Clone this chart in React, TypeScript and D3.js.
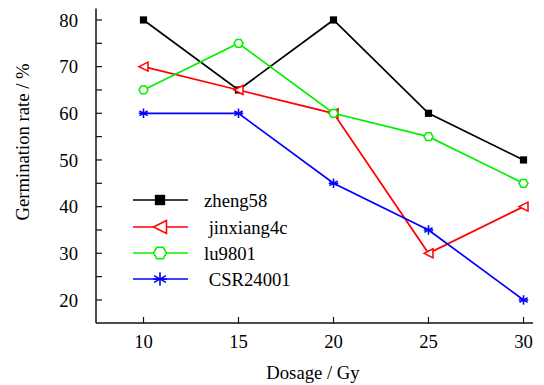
import React from "react";
import * as d3 from "d3";

const doses = [10, 15, 20, 25, 30];
const seriesNames = ["zheng58", " jinxiang4c", "lu9801", " CSR24001"];
const zheng58 = [80, 65, 80, 60, 50];
const jinxiang4c = [70, 65, 60, 30, 40];
const lu9801 = [65, 75, 60, 55, 45];
const csr24001 = [60, 60, 45, 35, 20];
const yTicks = [20, 25, 30, 35, 40, 45, 50, 55, 60, 65, 70, 75, 80];
const yLabels = [20, 30, 40, 50, 60, 70, 80];

const colors = ["#000000", "#ff0000", "#00f000", "#0000ff"];
const markers = ["square", "triangle", "hexagon", "star"];
const allSeries = [zheng58, jinxiang4c, lu9801, csr24001];

const font = "'Liberation Serif', 'Times New Roman', serif";

function Marker({ type, x, y, color, r }: { type: string; x: number; y: number; color: string; r: number }) {
  if (type === "square") {
    const s = r * 0.8;
    return <rect x={x - s} y={y - s} width={2 * s} height={2 * s} fill={color} />;
  }
  if (type === "triangle") {
    const s = r;
    const pts = [[x - s, y], [x + s, y - s], [x + s, y + s]];
    return <polygon points={pts.map((p) => p.join(",")).join(" ")} fill="white" stroke={color} strokeWidth={1.5} />;
  }
  if (type === "hexagon") {
    const pts = d3.range(6).map((i) => {
      const a = (Math.PI / 3) * i;
      return [x + r * Math.cos(a), y + r * Math.sin(a)];
    });
    return <polygon points={pts.map((p) => p.join(",")).join(" ")} fill="white" stroke={color} strokeWidth={1.5} />;
  }
  const rr = r * 1.05;
  return (
    <g stroke={color} strokeWidth={1.6}>
      {d3.range(3).map((i) => {
        const a = Math.PI / 2 + (Math.PI / 3) * i;
        return (
          <line key={i} x1={x - rr * Math.cos(a)} y1={y - rr * Math.sin(a)} x2={x + rr * Math.cos(a)} y2={y + rr * Math.sin(a)} />
        );
      })}
      <line x1={x - rr} y1={y} x2={x + rr} y2={y} />
    </g>
  );
}

export default function App() {
  const x = d3.scaleLinear().domain([7.5, 30.5]).range([96, 533]);
  const y = d3.scaleLinear().domain([15, 82.5]).range([323.3, 8.3]);
  const x0 = 96;
  const y0 = 323;
  const line = d3
    .line<number>()
    .x((_, i) => x(doses[i]))
    .y((d) => y(d));

  const legendY = [200, 227, 253, 279];
  const fs = 18.7;

  return (
    <svg width={544} height={385} style={{ position: "absolute", left: 0, top: 0, background: "white" }} fontFamily={font}>
      <line x1={x0} y1={8.5} x2={x0} y2={y0} stroke="#111" strokeWidth={1.5} />
      <line x1={x0} y1={y0} x2={533} y2={y0} stroke="#111" strokeWidth={1.5} />
      {yTicks.map((t) => (
        <line key={t} x1={x0} x2={x0 + 6} y1={y(t)} y2={y(t)} stroke="#111" strokeWidth={1.2} />
      ))}
      {yLabels.map((t) => (
        <text key={t} x={78} y={y(t)} dy="0.35em" textAnchor="end" fontSize={fs}>
          {t}
        </text>
      ))}
      {doses.map((d) => (
        <g key={d}>
          <line x1={x(d)} x2={x(d)} y1={y0} y2={y0 - 6} stroke="#111" strokeWidth={1.2} />
          <text x={x(d)} y={348} textAnchor="middle" fontSize={fs}>
            {d}
          </text>
        </g>
      ))}
      <text x={313} y={379} textAnchor="middle" fontSize={fs}>
        Dosage / Gy
      </text>
      <text transform="translate(29,142) rotate(-90)" textAnchor="middle" fontSize={fs}>
        Germination rate / %
      </text>

      {allSeries.map((s, k) => (
        <g key={k}>
          <path d={line(s) || ""} fill="none" stroke={colors[k]} strokeWidth={1.7} />
          {s.map((v, i) => (
            <Marker key={i} type={markers[k]} x={x(doses[i])} y={y(v)} color={colors[k]} r={4.5} />
          ))}
        </g>
      ))}

      {seriesNames.map((name, k) => (
        <g key={name}>
          <line x1={133} x2={188} y1={legendY[k]} y2={legendY[k]} stroke={colors[k]} strokeWidth={1.7} />
          <Marker type={markers[k]} x={160} y={legendY[k]} color={colors[k]} r={6.5} />
          <text x={204} y={legendY[k]} dy="0.35em" fontSize={fs} style={{ whiteSpace: "pre" }}>
            {name}
          </text>
        </g>
      ))}
    </svg>
  );
}
